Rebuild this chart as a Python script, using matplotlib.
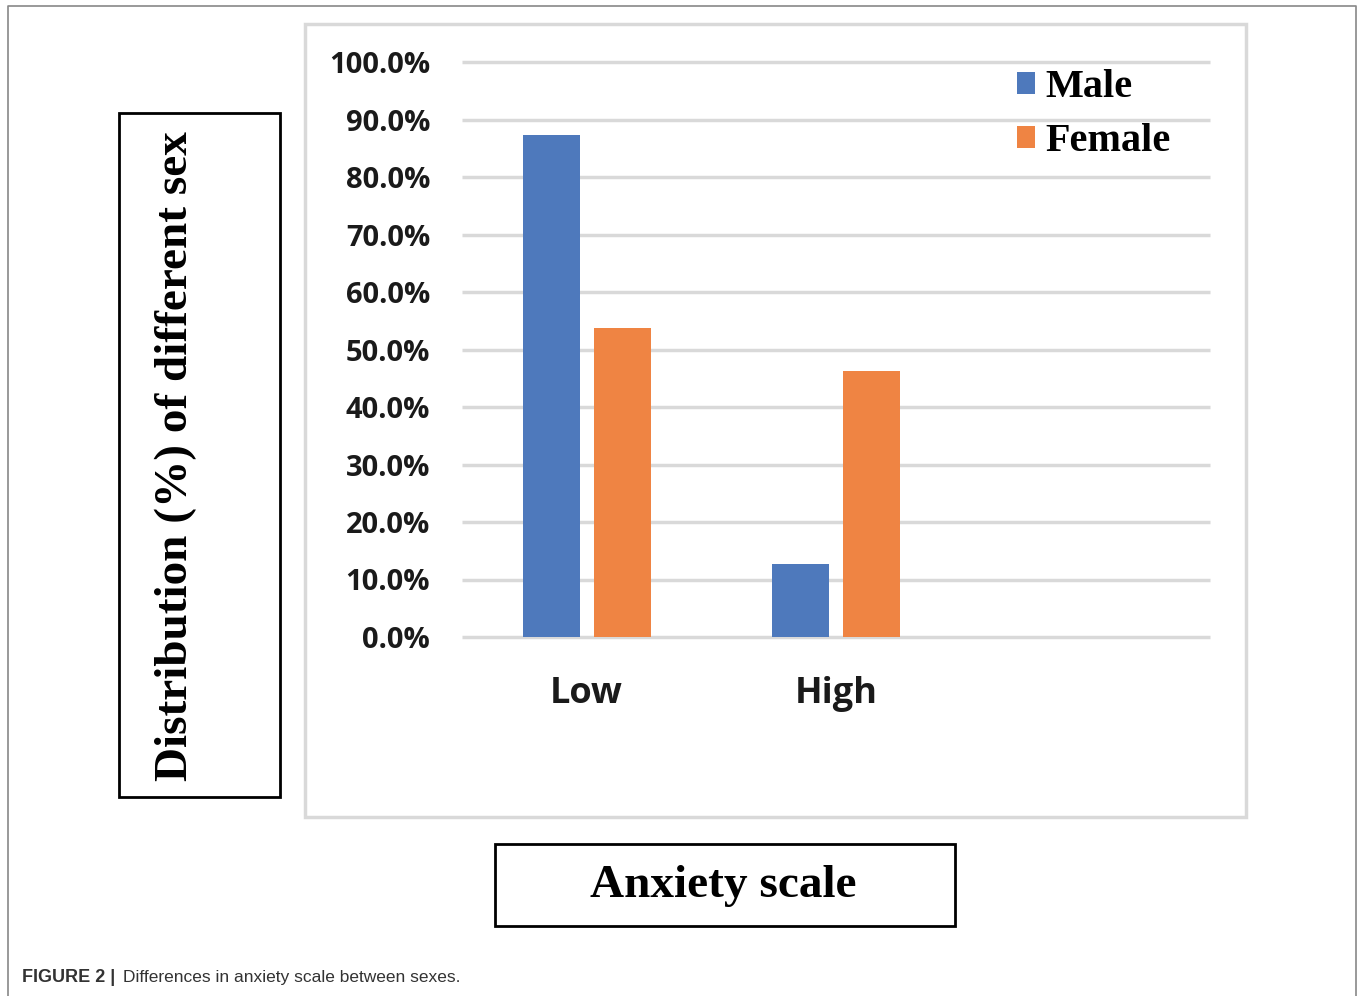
import matplotlib
matplotlib.use("Agg")
import matplotlib.pyplot as plt
from matplotlib.patches import Rectangle
from matplotlib.lines import Line2D
from matplotlib.ticker import FuncFormatter
import numpy as np

categories = ["Low", "High", ""]
male = [87.3, 12.7]
female = [53.7, 46.3]

W, H = 1357, 996
BLUE = "#4e79bc"
ORANGE = "#ef8443"
GRID = "#d9d9d9"


def fx(px):
    return px / W


def fy(py):
    return 1 - py / H


fig = plt.figure(figsize=(W / 100, H / 100), dpi=100)

# outer frame (open at bottom)
fig.add_artist(Line2D([fx(8), fx(8), fx(1356), fx(1356)], [0, fy(6), fy(6), 0],
                      transform=fig.transFigure, color="#888888", lw=1.2))
# chart area border
fig.add_artist(Rectangle((fx(305), fy(817)), fx(1246) - fx(305), fy(24) - fy(817),
                         transform=fig.transFigure, fill=False, ec="#d9d9d9", lw=2.5))

ax = fig.add_axes([fx(462), fy(637), fx(1210) - fx(462), fy(62) - fy(637)])
x = np.arange(len(male))
w = 0.229
ax.bar(x - 0.1426, male, w, color=BLUE, label="Male", zorder=3)
ax.bar(x + 0.1426, female, w, color=ORANGE, label="Female", zorder=3)
ax.set_xlim(-0.5, 2.5)
ax.set_ylim(0, 100)
ax.set_yticks(np.arange(0, 101, 10))
ax.yaxis.set_major_formatter(FuncFormatter(lambda v, _: f"{v:.1f}%"))
ax.set_xticks(range(len(categories)))
ax.set_xticklabels(categories)
ax.grid(axis="y", color=GRID, lw=2.5, zorder=0)
for gl in ax.get_ygridlines():
    gl.set_clip_on(False)
    gl.set_solid_capstyle("butt")
for s in ax.spines.values():
    s.set_visible(False)
ax.tick_params(length=0)
ax.tick_params(axis="y", pad=23)
ax.tick_params(axis="x", pad=28)
for t in ax.get_yticklabels():
    t.set_fontfamily("Open Sans")
    t.set_fontweight("bold")
    t.set_fontsize(21)
    t.set_color("#1a1a1a")
for t in ax.get_xticklabels():
    t.set_fontfamily("Open Sans")
    t.set_fontweight("bold")
    t.set_fontsize(26)
    t.set_color("#1a1a1a")

leg = ax.legend(loc="upper left", bbox_to_anchor=((1001 - 462) / 748, 1.015),
                frameon=False, prop={"family": "Liberation Serif", "weight": "bold", "size": 29},
                handlelength=0.45, handleheight=0.45, handletextpad=0.25, labelspacing=0.42,
                borderaxespad=0)

# y label box
fig.add_artist(Rectangle((fx(119), fy(797)), fx(280) - fx(119), fy(113) - fy(797),
                         transform=fig.transFigure, fill=False, ec="black", lw=2))
fig.text(fx(176), fy(456), "Distribution (%) of different sex", rotation=90,
         ha="center", va="center", family="Liberation Serif", weight="bold", size=34)

# x label box
fig.add_artist(Rectangle((fx(495), fy(926)), fx(955) - fx(495), fy(844) - fy(926),
                         transform=fig.transFigure, fill=False, ec="black", lw=2))
fig.text(fx(723), fy(886), "Anxiety scale", ha="center", va="center",
         family="Liberation Serif", weight="bold", size=34)

# caption
fig.text(fx(22), fy(977), "FIGURE 2 |", ha="left", va="center",
         family="Liberation Sans", weight="bold", size=13, color="#333333")
fig.text(fx(123), fy(977), "Differences in anxiety scale between sexes.", ha="left", va="center",
         family="Liberation Sans", size=12.5, color="#333333")

fig.savefig("out.png", dpi=100)
